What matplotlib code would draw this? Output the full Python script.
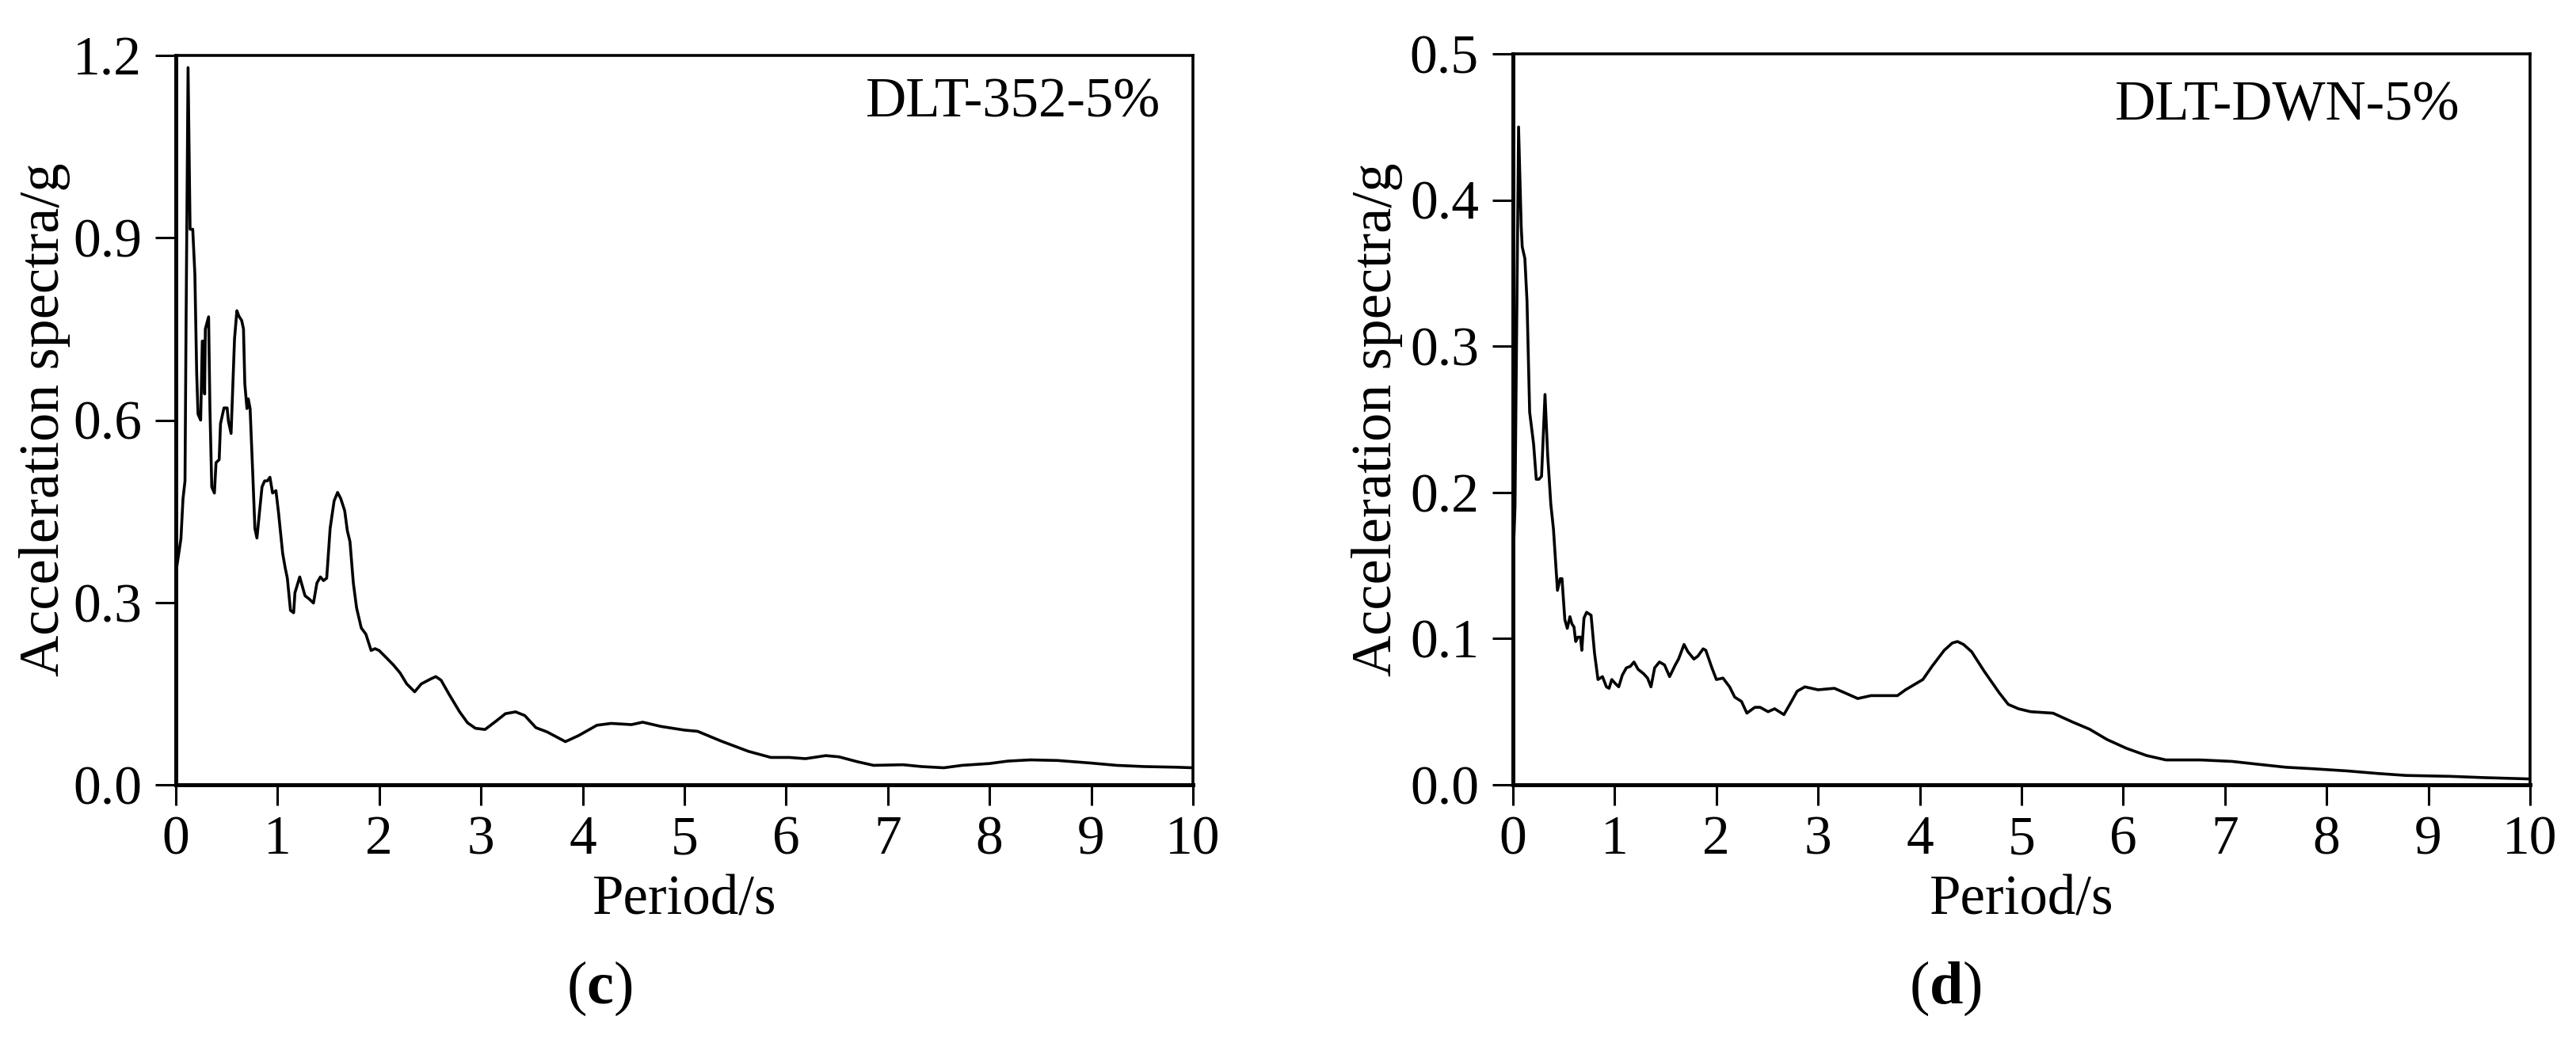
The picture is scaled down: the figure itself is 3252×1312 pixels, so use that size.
import matplotlib
matplotlib.use("Agg")
import matplotlib.pyplot as plt

plt.rcParams["font.family"] = ["Liberation Serif", "DejaVu Serif"]
plt.rcParams["mathtext.fontset"] = "custom"
plt.rcParams["mathtext.rm"] = "Liberation Serif"
plt.rcParams["mathtext.bf"] = "Liberation Serif:bold"

# (c) DLT-352-5%
period_c = [0, 0.05, 0.07, 0.09, 0.10, 0.12, 0.14, 0.166, 0.187, 0.205,
            0.218, 0.244, 0.26, 0.275, 0.283, 0.29, 0.322, 0.335, 0.353, 0.379,
            0.395, 0.426, 0.439, 0.473, 0.504, 0.517, 0.543, 0.577, 0.60, 0.62,
            0.647, 0.665, 0.678, 0.699, 0.712, 0.73, 0.758, 0.777, 0.797, 0.816,
            0.847, 0.873, 0.90, 0.925, 0.951, 0.984, 1.01, 1.05, 1.075, 1.096,
            1.127, 1.158, 1.171, 1.218, 1.27, 1.309, 1.353, 1.387, 1.421, 1.452,
            1.483, 1.517, 1.556, 1.59, 1.621, 1.66, 1.686, 1.712, 1.745, 1.777,
            1.823, 1.868, 1.92, 1.958, 1.998, 2.07, 2.14, 2.205, 2.27, 2.348,
            2.413, 2.504, 2.556, 2.608, 2.686, 2.79, 2.868, 2.945, 3.04, 3.15,
            3.24, 3.34, 3.43, 3.54, 3.65, 3.83, 3.96, 4.14, 4.28, 4.48,
            4.59, 4.77, 5.0, 5.13, 5.36, 5.63, 5.85, 6.03, 6.19, 6.39,
            6.52, 6.70, 6.86, 7.15, 7.33, 7.55, 7.73, 8.0, 8.18, 8.40,
            8.67, 8.98, 9.25, 9.52, 9.82, 10.0]
accel_c = [0.348, 0.405, 0.47, 0.50, 0.75, 1.18, 0.914, 0.914, 0.84, 0.676,
           0.61, 0.60, 0.73, 0.73, 0.643, 0.75, 0.77, 0.619, 0.49, 0.48,
           0.53, 0.535, 0.594, 0.62, 0.62, 0.598, 0.578, 0.734, 0.78, 0.771,
           0.764, 0.75, 0.66, 0.619, 0.635, 0.619, 0.504, 0.422, 0.406, 0.438,
           0.49, 0.50, 0.50, 0.506, 0.48, 0.484, 0.447, 0.381, 0.357, 0.34,
           0.287, 0.283, 0.316, 0.342, 0.311, 0.306, 0.299, 0.332, 0.342, 0.336,
           0.34, 0.422, 0.467, 0.481, 0.471, 0.451, 0.418, 0.40, 0.332, 0.291,
           0.258, 0.248, 0.221, 0.224, 0.221, 0.209, 0.197, 0.184, 0.166, 0.153,
           0.166, 0.174, 0.178, 0.172, 0.149, 0.12, 0.102, 0.093, 0.091, 0.105,
           0.117, 0.12, 0.114, 0.094, 0.087, 0.071, 0.081, 0.098, 0.101, 0.099,
           0.103, 0.096, 0.09, 0.088, 0.072, 0.055, 0.045, 0.045, 0.043, 0.048,
           0.046, 0.038, 0.032, 0.033, 0.030, 0.028, 0.032, 0.035, 0.039, 0.041,
           0.040, 0.036, 0.032, 0.030, 0.029, 0.028]

# (d) DLT-DWN-5%
period_d = [0, 0.02, 0.055, 0.081, 0.091, 0.117, 0.138, 0.164, 0.203, 0.229,
            0.255, 0.281, 0.315, 0.341, 0.372, 0.398, 0.4375, 0.464, 0.482, 0.51,
            0.534, 0.56, 0.58, 0.60, 0.617, 0.638, 0.664, 0.677, 0.698, 0.724,
            0.768, 0.802, 0.836, 0.88, 0.919, 0.945, 0.971, 1.01, 1.04, 1.075,
            1.115, 1.154, 1.19, 1.23, 1.284, 1.323, 1.357, 1.393, 1.44, 1.49,
            1.54, 1.596, 1.628, 1.682, 1.72, 1.779, 1.818, 1.87, 1.896, 1.956,
            2.0, 2.065, 2.13, 2.18, 2.247, 2.30, 2.378, 2.43, 2.508, 2.573,
            2.664, 2.73, 2.794, 2.87, 3.0, 3.16, 3.26, 3.39, 3.52, 3.665,
            3.78, 3.86, 4.03, 4.12, 4.24, 4.32, 4.37, 4.43, 4.51, 4.63,
            4.78, 4.87, 4.97, 5.09, 5.31, 5.50, 5.67, 5.84, 6.03, 6.23,
            6.42, 6.76, 7.07, 7.33, 7.60, 7.86, 8.2, 8.51, 8.78, 9.21,
            9.55, 10.0]
accel_d = [0.15, 0.19, 0.45, 0.382, 0.368, 0.36, 0.331, 0.255, 0.233, 0.209,
           0.209, 0.211, 0.267, 0.226, 0.192, 0.175, 0.133, 0.141, 0.141, 0.113,
           0.107, 0.115, 0.110, 0.108, 0.098, 0.101, 0.101, 0.092, 0.114, 0.118,
           0.116, 0.09, 0.072, 0.074, 0.067, 0.066, 0.072, 0.069, 0.067, 0.075,
           0.080, 0.081, 0.084, 0.079, 0.076, 0.073, 0.067, 0.080, 0.084, 0.082,
           0.074, 0.082, 0.086, 0.096, 0.091, 0.086, 0.088, 0.093, 0.092, 0.080,
           0.072, 0.073, 0.067, 0.060, 0.057, 0.049, 0.053, 0.053, 0.050, 0.052,
           0.048, 0.056, 0.064, 0.067, 0.065, 0.066, 0.063, 0.059, 0.061, 0.061,
           0.061, 0.065, 0.072, 0.081, 0.092, 0.097, 0.098, 0.096, 0.091, 0.078,
           0.063, 0.055, 0.052, 0.050, 0.049, 0.043, 0.038, 0.031, 0.025, 0.020,
           0.017, 0.017, 0.016, 0.014, 0.012, 0.011, 0.0095, 0.0077, 0.0064, 0.0058,
           0.0049, 0.004]

x_ticks = list(range(0, 11))
y_ticks_c = [0.0, 0.3, 0.6, 0.9, 1.2]
y_ticks_d = [0.0, 0.1, 0.2, 0.3, 0.4, 0.5]

W, H = 3252, 1312
fig = plt.figure(figsize=(W / 100, H / 100), dpi=100)


def px(x0, y_top, x1, y_bot):
    return [x0 / W, 1 - y_bot / H, (x1 - x0) / W, (y_bot - y_top) / H]


panels = [
    (px(222, 70, 1506, 991), period_c, accel_c, y_ticks_c, 1.2, "DLT-352-5%",
     0.968, 0.916, 57, "c", 757),
    (px(1910, 68, 3194, 991), period_d, accel_d, y_ticks_d, 0.5, "DLT-DWN-5%",
     0.931, 0.909, 1738, "d", 2456),
]

for rect, xs, ys, yt, ymax, name, tx, ty, ylab_x, letter, letter_x in panels:
    ax = fig.add_axes(rect)
    ax.plot(xs, ys, color="black", lw=2.6)
    ax.set_xlim(0, 10)
    ax.set_ylim(0, ymax)
    ax.set_xticks(x_ticks)
    ax.set_yticks(yt)
    ax.set_yticklabels([f"{v:.1f}" for v in yt])
    ax.tick_params(axis="both", direction="out", length=19, width=2.2,
                   labelsize=50)
    ax.tick_params(axis="x", pad=9)
    ax.tick_params(axis="y", pad=12)
    for side in ["top", "right"]:
        ax.spines[side].set_linewidth(2.6)
    for side in ["left", "bottom"]:
        ax.spines[side].set_linewidth(3.6)
    ax.text(tx, ty, name, transform=ax.transAxes, ha="right", va="baseline",
            fontsize=51)

    cx = (rect[0] + rect[2] / 2)
    fig.text(cx, (H - 1154) / H, "Period/s", ha="center", va="baseline",
             fontsize=51)
    fig.text(ylab_x / W, (H - 530) / H, "Acceleration spectra/g",
             rotation=90, ha="center", va="center", fontsize=52)
    fig.text(letter_x / W, (H - 1267) / H, r"$(\mathbf{" + letter + "})$",
             ha="center", va="baseline", fontsize=55)

fig.savefig("out.png", dpi=100, facecolor="white")
